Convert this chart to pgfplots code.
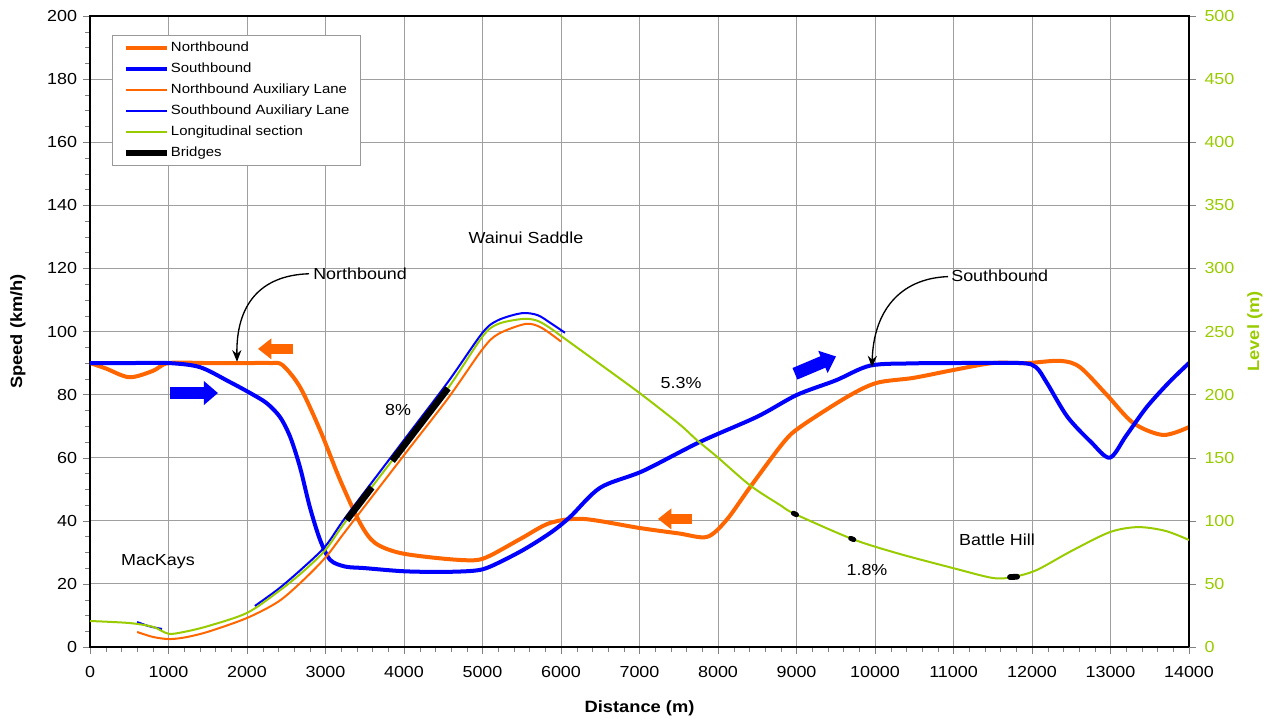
\documentclass[border=0pt]{standalone}
\usepackage{fontspec}
\setmainfont{Liberation Sans}[FakeStretch=1.12]
\usepackage{pgfplots}
\pgfplotsset{compat=1.18}
\usetikzlibrary{arrows.meta}
\definecolor{nb}{RGB}{255,102,0}
\definecolor{sb}{RGB}{0,0,255}
\definecolor{lg}{RGB}{153,204,0}
\pgfplotsset{
  myax/.style={scale only axis, width=659.4pt, height=378.6pt,
    xmin=0, xmax=14000,
    scaled x ticks=false, scaled y ticks=false,
    tick align=outside,
    /pgf/number format/assume math mode=true,
    /pgf/number format/set thousands separator={},
    tick label style={font=\fontsize{9.6}{11}\selectfont},
    label style={font=\fontsize{9.8}{11}\selectfont\bfseries},
  },
  legend image code/.code={\draw[#1] (0pt,0pt) -- (24.6pt,0pt);},
}
\begin{document}
\begin{tikzpicture}[font=\fontsize{9.6}{11}\selectfont]
\begin{axis}[myax,
  ymin=0, ymax=200,
  xtick={0,1000,...,14000}, ytick={0,20,...,200},
  minor x tick num=4, minor y tick num=3,
  xtick pos=bottom, ytick pos=left,
  xticklabel style={yshift=-3.5pt},
  grid=major, major grid style={gray!75, line width=0.5pt},
  axis line style={line width=0.8pt},
  xlabel={Distance (m)}, ylabel={Speed (km/h)},
  xlabel style={at={(axis description cs:0.5,-0.0967)}, anchor=center},
  ylabel style={at={(axis description cs:-0.0655,0.5)}, anchor=center},
  legend style={at={(0.02,0.97)}, anchor=north west, draw=gray!80,
    font=\fontsize{8}{10}\selectfont, legend cell align=left,
    row sep=1.3pt, inner xsep=6pt, inner ysep=2pt,
    nodes={inner xsep=0.6pt}},
]
\coordinate (BL) at (rel axis cs:0,0);
\coordinate (TR) at (rel axis cs:1,1);
% Northbound
\addplot[nb, line width=2.4pt, smooth] coordinates {
(0,90)(200,88.3)(500,85.5)(800,87.5)(1000,90)(1500,90)(2000,90)(2300,90)(2450,89.4)
(2675,82.4)(2930,68.8)(3185,53)(3440,39.3)(3630,33)(3950,29.8)(4500,28)(4900,27.5)
(5100,29)(5500,34.5)(5860,39.3)(6280,40.6)(7006,37.7)(7500,36)(7860,34.9)(8110,40.3)
(8410,50.7)(8830,64.7)(9045,69.7)(9640,79.2)(10020,83.7)(10490,85.3)(11000,87.8)
(11500,90)(11940,90)(12360,90.7)(12610,88.7)(12950,80)(13290,71)(13670,67.2)(14000,69.7)};
\addlegendentry{Northbound}
% Southbound
\addplot[sb, line width=2.4pt, smooth] coordinates {
(0,90)(500,90)(1000,90)(1400,88.7)(1780,84)(2040,80.5)(2250,77.3)(2420,72.9)(2550,66.6)
(2675,57)(2800,44.4)(2930,34)(3060,27.6)(3250,25.5)(3500,25)(4000,24)(4500,23.8)(4900,24.2)
(5100,25.5)(5500,30.5)(5860,36.1)(6115,41.2)(6500,50.5)(7045,55.8)(7770,65)(8500,73)
(9005,79.9)(9500,84.5)(9940,89.2)(10500,89.9)(11000,90)(11850,90)(12050,88.7)(12190,83.7)
(12450,73)(12750,65)(12990,60)(13200,67)(13460,76)(13750,84)(14000,90)};
\addlegendentry{Southbound}
\addlegendimage{nb, line width=1.2pt}
\addlegendentry{Northbound Auxiliary Lane}
\addlegendimage{sb, line width=1.2pt}
\addlegendentry{Southbound Auxiliary Lane}
\addlegendimage{lg, line width=1.2pt}
\addlegendentry{Longitudinal section}
\addlegendimage{black, line width=4pt}
\addlegendentry{Bridges}
% annotations
\node[anchor=west, inner xsep=0pt] at (axis cs:2840,118.2) {Northbound};
\node[anchor=west, inner xsep=0pt] at (axis cs:10968,117.6) {Southbound};
\node at (axis cs:5554,129.6) {Wainui Saddle};
\node at (axis cs:3924,75.1) {8\%};
\node at (axis cs:7530,83.7) {5.3\%};
\node at (axis cs:9898,24.4) {1.8\%};
\node at (axis cs:11554,33.9) {Battle Hill};
\node at (axis cs:866,26.9) {MacKays};
\draw[-{Stealth[length=7pt,width=5.5pt]}, line width=0.8pt]
  (axis cs:2790,118.3) .. controls (axis cs:2150,117.8) and (axis cs:1860,108) .. (axis cs:1873,90.4);
\draw[-{Stealth[length=7pt,width=5.5pt]}, line width=0.8pt]
  (axis cs:10930,117.4) .. controls (axis cs:10300,116.8) and (axis cs:9980,106) .. (axis cs:9962,88.6);
% block arrows
\draw[nb, line width=6pt, -{Triangle[length=8pt,width=12pt]}] (axis cs:2590,94.5) -- (axis cs:2140,94.5);
\draw[nb, line width=6pt, -{Triangle[length=8pt,width=12pt]}] (axis cs:7670,40.6) -- (axis cs:7235,40.6);
\draw[sb, line width=7.5pt, -{Triangle[length=8.5pt,width=14pt]}] (axis cs:1019,80.5) -- (axis cs:1630,80.5);
\draw[sb, line width=7.5pt, -{Triangle[length=8.5pt,width=14pt]}] (axis cs:8980,86.6) -- (axis cs:9503,92.1);
\end{axis}
\begin{axis}[myax,
  ymin=0, ymax=500, ytick={0,50,...,500},
  axis y line*=right, axis x line=none,
  y axis line style={line width=0.8pt},
  yticklabel style={text=lg, xshift=1.5pt},
  ylabel={Level (m)}, ylabel style={text=lg, at={(axis description cs:1.06,0.5)}, anchor=center},
]
% Northbound auxiliary lane
\addplot[nb, line width=1.2pt, smooth] coordinates {
(600,11.9)(800,8)(1000,6.3)(1200,7.5)(1500,12)(2000,23)(2400,36)(2700,52)(3000,71)
(3270,93)(4000,152)(4560,197)(5000,236)(5200,248)(5550,256)(5750,253)(6000,242)};
% Southbound auxiliary lanes
\addplot[sb, line width=1.2pt, smooth] coordinates {(600,19.8)(750,16.5)(917,14.3)};
\addplot[sb, line width=1.2pt, smooth] coordinates {
(2100,32.5)(2400,46)(2700,62)(3000,80)(3270,104)(4000,164)(4560,210)(5000,249)(5200,259)
(5500,264.5)(5700,263)(5860,257)(6050,249)};
% Longitudinal section
\addplot[lg, line width=1.2pt, smooth] coordinates {
(0,20.6)(500,19)(800,16)(1000,10.5)(1200,12)(1500,16.5)(2000,27)(2400,44)(2700,59)(3000,77)
(3270,100.6)(4000,160)(4560,205)(5000,246)(5200,256)(5520,260)(5700,258.5)(5860,252.8)
(6000,246.5)(6500,224)(7006,201)(7500,177)(7730,164)(7990,150.6)(8410,128)(8790,112.5)
(8980,105.4)(9710,85.6)(10300,74)(10990,62.6)(11500,54.7)(11760,55.5)(12060,61)(12500,76)
(12990,91)(13350,95)(13700,92)(14000,84.8)};
% Bridges
\addplot[black, line width=4pt] coordinates {(3270,100.6)(3590,126.5)};
\addplot[black, line width=4pt] coordinates {(3850,147.5)(4560,205)};
\addplot[black, line width=3pt, line cap=round] coordinates {(8960,106)(9000,104.8)};
\addplot[black, line width=3pt, line cap=round] coordinates {(9690,86.1)(9730,85.1)};
\addplot[black, line width=3.5pt, line cap=round] coordinates {(11720,55.4)(11810,55.7)};
\end{axis}
\pgfresetboundingbox
\path ([shift={(-54pt,-45pt)}]BL) rectangle ([shift={(51.6pt,9.6pt)}]TR);
\end{tikzpicture}
\end{document}
